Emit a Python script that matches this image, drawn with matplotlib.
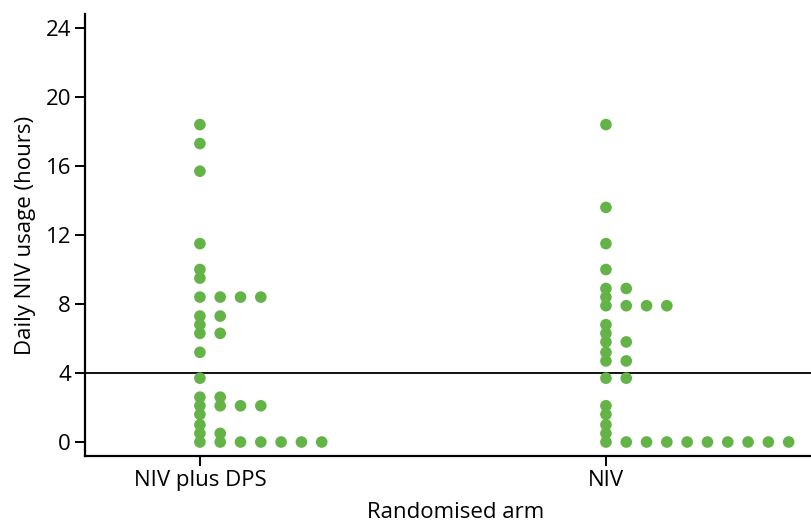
import numpy as np
import matplotlib.pyplot as plt

plt.rcParams['font.family'] = ['Open Sans', 'DejaVu Sans']

# Data (hours of daily NIV use)
ARMS = ["NIV plus DPS", "NIV"]
NIV_DPS_HOURS = [18.4, 17.3, 15.7, 11.5, 10.0, 9.5,
                 8.4, 8.4, 8.4, 8.4, 7.3, 7.3, 6.8, 6.3, 6.3, 5.2, 3.7,
                 2.6, 2.6, 2.1, 2.1, 2.1, 2.1, 1.6, 1.0, 0.5, 0.5,
                 0, 0, 0, 0, 0, 0, 0]
NIV_HOURS = [18.4, 13.6, 11.5, 10.0, 8.9, 8.9, 8.4,
             7.9, 7.9, 7.9, 7.9, 6.8, 6.3, 5.8, 5.8, 5.2, 4.7, 4.7,
             3.7, 3.7, 2.1, 1.6, 1.0, 0.5,
             0, 0, 0, 0, 0, 0, 0, 0, 0, 0]
THRESHOLD = 4
Y_TICKS = [0, 4, 8, 12, 16, 20, 24]

DOT_COLOR = "#63b347"
DOT_STEP = 0.05


def dot_offsets(values, step):
    """Stack equal values sideways, starting at the category position."""
    counts = {}
    offsets = []
    for v in values:
        k = counts.get(v, 0)
        offsets.append(k * step)
        counts[v] = k + 1
    return np.array(offsets)


fig = plt.figure(figsize=(8.11, 5.21), dpi=100)
ax = fig.add_axes([0.1048, 0.1248, 0.8952, 0.8483])

for i, vals in enumerate([NIV_DPS_HOURS, NIV_HOURS]):
    xs = i + dot_offsets(vals, DOT_STEP)
    ax.scatter(xs, vals, s=70, color=DOT_COLOR, edgecolors="none",
               zorder=3, clip_on=False)

ax.axhline(THRESHOLD, color="black", linewidth=1.3, zorder=2)

ax.set_xlim(-0.283, 1.505)
ax.set_ylim(-0.81, 24.81)
ax.set_yticks(Y_TICKS)
ax.set_xticks(range(len(ARMS)))
ax.set_xticklabels(ARMS)

for side in ["top", "right"]:
    ax.spines[side].set_visible(False)
for side in ["left", "bottom"]:
    ax.spines[side].set_linewidth(1.6)

ax.tick_params(axis="both", labelsize=16, width=1.4, length=7,
               direction="out", colors="black", pad=3)
ax.set_ylabel("Daily NIV usage (hours)", fontsize=16, labelpad=7)
ax.set_xlabel("Randomised arm", fontsize=16)
ax.xaxis.set_label_coords(0.51, -0.103)

fig.savefig("out.png", dpi=100)
